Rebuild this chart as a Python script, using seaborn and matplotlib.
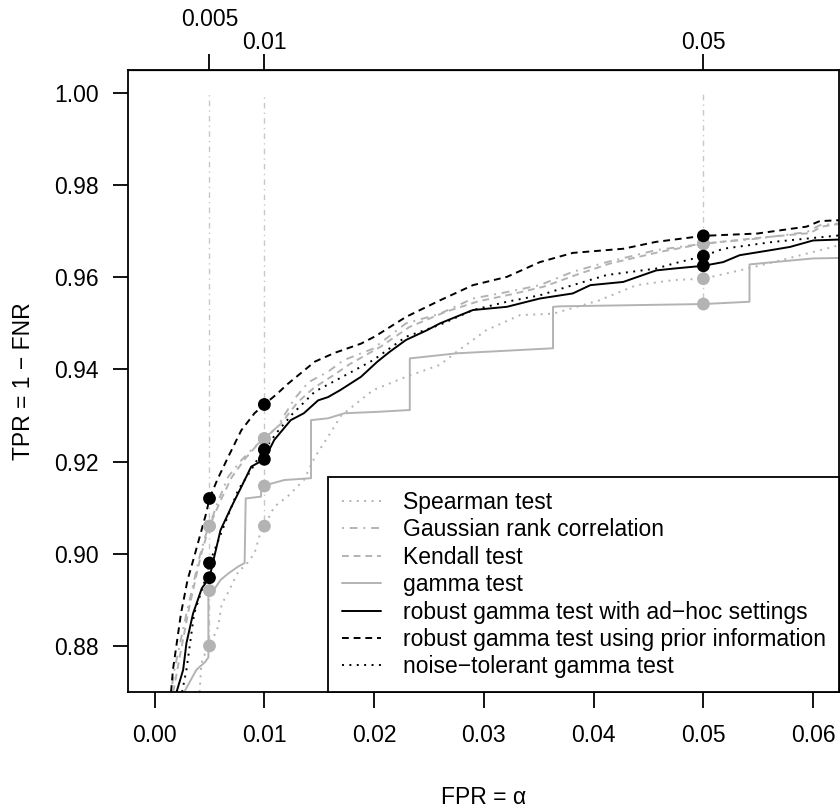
import numpy as np
import pandas as pd
import matplotlib
matplotlib.use("Agg")
import matplotlib.pyplot as plt
import seaborn as sns

# ROC curves (FPR, TPR)
spearman_fpr = [0.0041, 0.00426, 0.0047, 0.005, 0.0058, 0.0061, 0.00665, 0.0077, 0.0082, 0.0091,
                0.0097, 0.01, 0.0109, 0.0121, 0.0136, 0.0146, 0.0158, 0.017, 0.0199, 0.0229,
                0.0260, 0.0275, 0.0302, 0.0333, 0.0363, 0.0405, 0.0439, 0.0473, 0.05, 0.0533,
                0.0564, 0.0618, 0.0624]
spearman_tpr = [0.870, 0.8762, 0.879, 0.880, 0.8842, 0.889, 0.8914, 0.8965, 0.8972, 0.9001,
                0.9051, 0.906, 0.9102, 0.9124, 0.916, 0.921, 0.9254, 0.930, 0.9355, 0.9384,
                0.9410, 0.9438, 0.9485, 0.9518, 0.9521, 0.955, 0.9583, 0.9594, 0.9597, 0.9615,
                0.9633, 0.9666, 0.967]

gauss_fpr = [0.0015, 0.0018, 0.0029, 0.0041, 0.0047, 0.005, 0.0057, 0.0067, 0.0079, 0.0091,
             0.01, 0.0112, 0.0127, 0.014, 0.0158, 0.0172, 0.0199, 0.0229, 0.026, 0.029,
             0.0321, 0.0351, 0.0381, 0.0412, 0.0457, 0.05, 0.0549, 0.0594, 0.0606, 0.0624]
gauss_tpr = [0.870, 0.8748, 0.887, 0.8994, 0.9044, 0.906, 0.9109, 0.9167, 0.9203, 0.9232,
             0.925, 0.9276, 0.9335, 0.9372, 0.9395, 0.942, 0.9445, 0.950, 0.9521, 0.9554,
             0.9568, 0.9583, 0.9612, 0.9633, 0.9659, 0.9673, 0.9684, 0.9698, 0.9713, 0.9717]

kendall_fpr = [0.0017, 0.0021, 0.0031, 0.0042, 0.0048, 0.005, 0.006, 0.007, 0.0082, 0.0093,
               0.01, 0.0115, 0.013, 0.0145, 0.0162, 0.0178, 0.0205, 0.0232, 0.0265, 0.0295,
               0.0325, 0.0355, 0.0385, 0.0415, 0.046, 0.05, 0.0552, 0.0597, 0.0608, 0.0624]
kendall_tpr = [0.870, 0.8752, 0.8878, 0.8995, 0.9045, 0.906, 0.9115, 0.9165, 0.9205, 0.9235,
               0.925, 0.9282, 0.9328, 0.936, 0.9386, 0.9412, 0.9448, 0.9492, 0.9525, 0.9548,
               0.9563, 0.958, 0.9606, 0.963, 0.9655, 0.9673, 0.9686, 0.9696, 0.971, 0.9716]

gamma_fpr = [0.0027, 0.0038, 0.0046, 0.0049, 0.0049, 0.0055, 0.006, 0.0067, 0.0076, 0.0082,
             0.0083, 0.0097, 0.0097, 0.01, 0.0118, 0.01425, 0.01425, 0.0158, 0.0173, 0.0203,
             0.02325, 0.02325, 0.0275, 0.0363, 0.0363, 0.0369, 0.05, 0.0542, 0.0542, 0.0564,
             0.06, 0.0624]
gamma_tpr = [0.870, 0.8748, 0.8765, 0.8775, 0.892, 0.8925, 0.8943, 0.8957, 0.8972, 0.898,
             0.912, 0.9124, 0.9147, 0.9148, 0.916, 0.9164, 0.929, 0.9294, 0.9305, 0.9308,
             0.9312, 0.9424, 0.9435, 0.9446, 0.9536, 0.9537, 0.9542, 0.9547, 0.9628, 0.9633,
             0.9641, 0.9642]

adhoc_fpr = [0.0020, 0.0026, 0.0029, 0.0035, 0.0043, 0.005, 0.00544, 0.0060, 0.0070, 0.0079,
             0.0088, 0.01, 0.0109, 0.0124, 0.0136, 0.0149, 0.0158, 0.0169, 0.0188, 0.0203,
             0.0214, 0.0229, 0.0248, 0.026, 0.029, 0.0321, 0.0351, 0.0381, 0.0397, 0.0427,
             0.0457, 0.0473, 0.05, 0.0518, 0.0533, 0.0564, 0.0579, 0.06, 0.0624]
adhoc_tpr = [0.870, 0.8748, 0.8806, 0.887, 0.8925, 0.8948, 0.8994, 0.9051, 0.9102, 0.9145,
             0.9189, 0.9205, 0.9247, 0.929, 0.9305, 0.9333, 0.934, 0.9355, 0.9384, 0.9417,
             0.9438, 0.9464, 0.9485, 0.950, 0.9529, 0.9536, 0.9554, 0.9565, 0.9583, 0.959,
             0.9615, 0.9619, 0.9625, 0.9633, 0.9648, 0.966, 0.9666, 0.968, 0.9682]

prior_fpr = [0.0015, 0.00167, 0.0024, 0.0030, 0.0036, 0.0047, 0.005, 0.0057, 0.0067, 0.0079,
             0.0091, 0.01, 0.0112, 0.0121, 0.0146, 0.0164, 0.0188, 0.0201, 0.0229, 0.026,
             0.029, 0.0321, 0.0351, 0.0381, 0.0427, 0.0457, 0.05, 0.0549, 0.0594, 0.0606, 0.0624]
prior_tpr = [0.870, 0.8748, 0.887, 0.8943, 0.8993, 0.9088, 0.912, 0.916, 0.921, 0.9268,
             0.9305, 0.9324, 0.9348, 0.9368, 0.9417, 0.9436, 0.9456, 0.9472, 0.9514, 0.955,
             0.9583, 0.9601, 0.9633, 0.9653, 0.9662, 0.9677, 0.969, 0.9695, 0.971, 0.9722, 0.9724]

noise_fpr = [0.0025, 0.0029, 0.0036, 0.0045, 0.005, 0.0063, 0.0076, 0.0088, 0.0095, 0.01,
             0.0112, 0.0125, 0.0146, 0.0168, 0.0199, 0.0229, 0.026, 0.029, 0.0321, 0.0351,
             0.0381, 0.0412, 0.0457, 0.0473, 0.05, 0.0518, 0.0564, 0.0624]
noise_tpr = [0.870, 0.8748, 0.887, 0.8936, 0.898, 0.9059, 0.9138, 0.9182, 0.921, 0.9226,
             0.9265, 0.9302, 0.9352, 0.938, 0.942, 0.9471, 0.9497, 0.9529, 0.9547, 0.9561,
             0.9583, 0.9605, 0.9619, 0.963, 0.9646, 0.9662, 0.9677, 0.9691]

# TPR at the chosen significance levels
alpha_levels = [0.005, 0.01, 0.05]
alpha_labels = ["0.005", "0.01", "0.05"]
pts_spearman = [0.880, 0.906, 0.9597]
pts_gauss = [0.906, 0.925, 0.9673]
pts_kendall = [0.906, 0.925, 0.9673]
pts_gamma = [0.892, 0.9147, 0.9542]
pts_adhoc = [0.8948, 0.9205, 0.9625]
pts_prior = [0.912, 0.9324, 0.969]
pts_noise = [0.898, 0.9226, 0.9646]

x_ticks = [0.00, 0.01, 0.02, 0.03, 0.04, 0.05, 0.06]
y_ticks = [0.88, 0.90, 0.92, 0.94, 0.96, 0.98, 1.00]

GRAY = "#b3b3b3"
LW = 1.4
FS = 16.5
DOT = (0, (1, 2.8))
DASH = (0, (3.5, 2.5))
DOTDASH = (0, (1, 3, 4, 3))

sns.set_style("ticks")
plt.rcParams["font.family"] = ["Liberation Sans", "DejaVu Sans"]
plt.rcParams["axes.edgecolor"] = "black"
plt.rcParams["xtick.color"] = "black"
plt.rcParams["ytick.color"] = "black"
plt.rcParams["text.color"] = "black"
plt.rcParams["axes.labelcolor"] = "black"

fig = plt.figure(figsize=(8.4, 8.1), dpi=100)
ax = fig.add_axes([0.1527, 0.1457, 0.8467, 0.7679])

# vertical guide lines at the alpha levels
all_pts = [pts_spearman, pts_gauss, pts_kendall, pts_gamma, pts_adhoc, pts_prior, pts_noise]
low = np.min(np.array(all_pts), axis=0)
ax.vlines(alpha_levels, low, 1.0, colors="#c8c8c8", linewidth=1.0,
          linestyles=[DOTDASH] * 3, zorder=1)

curves = [
    ("Spearman test", spearman_fpr, spearman_tpr, GRAY, DOT),
    ("Gaussian rank correlation", gauss_fpr, gauss_tpr, GRAY, DOTDASH),
    ("Kendall test", kendall_fpr, kendall_tpr, GRAY, DASH),
    ("gamma test", gamma_fpr, gamma_tpr, GRAY, "-"),
    ("robust gamma test with ad\u2212hoc settings", adhoc_fpr, adhoc_tpr, "black", "-"),
    ("robust gamma test using prior information", prior_fpr, prior_tpr, "black", DASH),
    ("noise\u2212tolerant gamma test", noise_fpr, noise_tpr, "black", DOT),
]
for lab, fx, ty, col, ls in curves:
    df = pd.DataFrame({"fpr": fx, "tpr": ty})
    sns.lineplot(data=df, x="fpr", y="tpr", estimator=None, sort=False, color=col,
                 linestyle=ls, linewidth=LW, label=lab, ax=ax, zorder=2)

pts_list = [(pts_spearman, GRAY), (pts_gauss, GRAY), (pts_kendall, GRAY), (pts_gamma, GRAY),
            (pts_adhoc, "black"), (pts_prior, "black"), (pts_noise, "black")]
for vals, col in pts_list:
    sns.scatterplot(x=alpha_levels, y=vals, color=col, s=85, edgecolor="none",
                    ax=ax, zorder=3, legend=False)

ax.set_xlim(-0.0024, 0.0624)
ax.set_ylim(0.87, 1.005)
ax.set_xticks(x_ticks, labels=[f"{v:.2f}" for v in x_ticks])
ax.set_yticks(y_ticks, labels=[f"{v:.2f}" for v in y_ticks])
ax.tick_params(axis="x", length=11.3, width=1.3, pad=12, labelsize=FS)
ax.tick_params(axis="y", length=11, width=1.3, pad=10, labelsize=FS)
for sp in ax.spines.values():
    sp.set_linewidth(1.3)
    sp.set_color("black")

ax.set_xlabel("FPR = \u03b1", fontsize=FS, labelpad=28)
ax.set_ylabel("TPR = 1 \u2212 FNR", fontsize=FS, labelpad=14)

# top axis: alpha levels, 0.005 staggered above
top1 = ax.secondary_xaxis("top")
top1.set_xticks(alpha_levels[1:], labels=alpha_labels[1:])
top1.tick_params(length=11.3, width=1.3, pad=0, labelsize=FS)
top2 = ax.secondary_xaxis("top")
top2.set_xticks(alpha_levels[:1], labels=alpha_labels[:1])
top2.tick_params(length=11.3, width=1.3, pad=17, labelsize=FS)

handles, labels = ax.get_legend_handles_labels()
leg = ax.legend(handles, labels, loc="lower right", bbox_to_anchor=(1, 0), borderaxespad=0,
                frameon=True, fancybox=False, framealpha=1, edgecolor="black",
                fontsize=FS, handlelength=1.7, handletextpad=0.95, labelspacing=0.19,
                borderpad=0.6)
leg.get_frame().set_linewidth(1.3)
leg.set_zorder(5)

fig.savefig("out.png", dpi=100)
